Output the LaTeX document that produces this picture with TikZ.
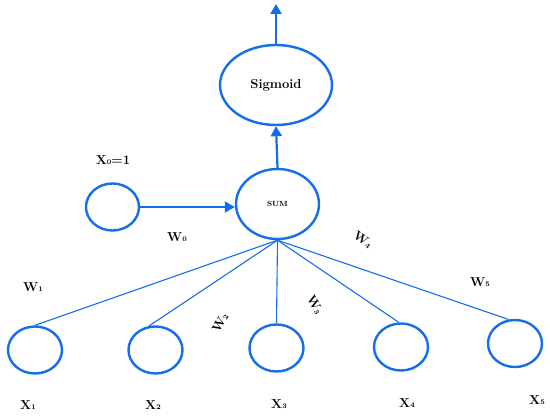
\documentclass[tikz,border=0pt]{standalone}
\usetikzlibrary{arrows.meta,shapes.geometric}
\definecolor{nblue}{RGB}{20,110,235}
\newcommand{\mysub}[1]{\raisebox{-0.3pt}{\fontsize{7}{8}\selectfont #1}}
\begin{document}
\begin{tikzpicture}[x=1pt,y=-1pt,
  neuron/.style={draw=nblue,line width=2.4pt,ellipse,inner sep=0pt},
  conn/.style={draw=nblue,line width=1.1pt},
  arr/.style={draw=nblue,line width=2.2pt,-{Triangle[length=10pt,width=11pt]}},
  lab/.style={font=\fontsize{13}{15}\selectfont\bfseries,inner sep=0pt}]
\useasboundingbox (0,0) rectangle (550,420);
\node[neuron,minimum width=112pt,minimum height=80pt,font=\fontsize{13}{15}\selectfont\bfseries] (sig) at (276,85) {Sigmoid};
\node[neuron,minimum width=83pt,minimum height=70pt,font=\fontsize{7.5}{9}\selectfont\bfseries] (sum) at (277.5,204) {SUM};
\node[neuron,minimum width=53pt,minimum height=47pt] (x0) at (112.5,207) {};
\node[neuron,minimum width=54pt,minimum height=47pt] (x1) at (35,350) {};
\node[neuron,minimum width=54pt,minimum height=47pt] (x2) at (155.5,350) {};
\node[neuron,minimum width=54pt,minimum height=47pt] (x3) at (276.5,348) {};
\node[neuron,minimum width=54pt,minimum height=47pt] (x4) at (401,347) {};
\node[neuron,minimum width=54pt,minimum height=47pt] (x5) at (515,343.5) {};
\coordinate (out) at (276,4);
\draw[arr] (sig.north) -- (out);
\draw[arr] (sum.north) -- (sig.south);
\draw[arr] (x0.east) -- (sum.west |- x0.east);
\draw[conn] (sum.south) -- (x1.north);
\draw[conn] (sum.south) -- (x2.105);
\draw[conn] (sum.south) -- (x3.north);
\draw[conn] (sum.south) -- (x4.95);
\draw[conn] (sum.south) -- (x5.105);
\node[lab] (lx0) at (113,160) {X\mysub{0}=1};
\node[lab] (lw0) at (177,237) {W\mysub{0}};
\node[lab] (lw1) at (33,287) {W\mysub{1}};
\node[lab,rotate=60] (lw2) at (220,323) {W\mysub{2}};
\node[lab,rotate=-60] (lw3) at (315,305) {W\mysub{3}};
\node[lab,rotate=-35] (lw4) at (363,240) {W\mysub{4}};
\node[lab] (lw5) at (480,282) {W\mysub{5}};
\node[lab] (lx1) at (28,405) {X\mysub{1}};
\node[lab] (lx2) at (153,405) {X\mysub{2}};
\node[lab] (lx3) at (279,404) {X\mysub{3}};
\node[lab] (lx4) at (407,403) {X\mysub{4}};
\node[lab] (lx5) at (537,400) {X\mysub{5}};
\end{tikzpicture}
\end{document}
